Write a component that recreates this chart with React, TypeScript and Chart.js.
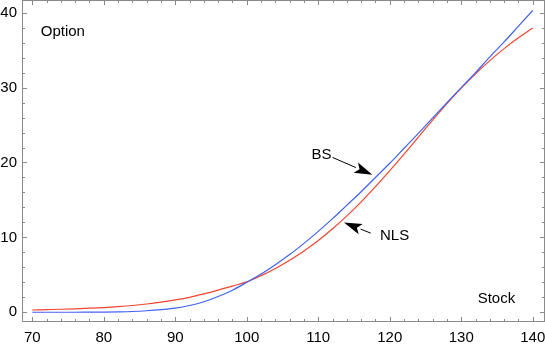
import React, { useEffect, useRef } from "react";
import { Chart, registerables } from "chart.js";

Chart.register(...registerables);

// Stock price (x) and option values for the two models
const stock = [70, 72, 74, 76, 78, 80, 82, 84, 86, 88, 90, 92, 94, 96, 98, 100, 102, 104, 106, 108, 110, 112, 114, 116, 118, 120, 122, 124, 126, 128, 130, 132, 134, 136, 138, 140];
const bsValues = [0, 0, 0, 0, 0.01, 0.02, 0.05, 0.1, 0.2, 0.35, 0.55, 0.9, 1.4, 2.1, 2.95, 4.0, 5.1, 6.35, 7.7, 9.2, 10.8, 12.5, 14.3, 16.1, 18.0, 19.9, 21.9, 23.9, 25.95, 28.0, 30.0, 32.0, 34.1, 36.1, 38.2, 40.3];
const nlsValues = [0.3, 0.35, 0.4, 0.46, 0.54, 0.63, 0.75, 0.9, 1.1, 1.35, 1.65, 2.0, 2.45, 2.95, 3.5, 4.05, 4.89, 5.85, 6.95, 8.19, 9.59, 11.15, 12.87, 14.75, 16.77, 18.91, 21.13, 23.39, 25.65, 27.85, 29.93, 31.85, 33.61, 35.21, 36.65, 37.97];

const xTickLabels = [70, 80, 90, 100, 110, 120, 130, 140];
const yTickLabels = [0, 10, 20, 30, 40];

// annotations in data units
const bsLabel = { text: "BS", x: 109.07, y: 20.47 };
const bsArrow = { fromX: 111.99, fromY: 20.68, toX: 117.57, toY: 18.36 };
const nlsLabel = { text: "NLS", x: 118.64, y: 9.67 };
const nlsArrow = { fromX: 117.34, fromY: 10.57, toX: 113.59, toY: 11.99 };
const yAxisLabel = { text: "Option", x: 71.18, y: 36.9 };
const xAxisLabel = { text: "Stock", x: 132.3, y: 1.2 };

const FONT = "'Liberation Sans', Arial, sans-serif";
const FRAME = "#8a8a8a";
const BLUE = "#3f63f2";
const RED = "#f2452f";

const framePlugin = {
  id: "frameTicks",
  afterDatasetsDraw(chart: any) {
    const { ctx, chartArea: a, scales } = chart;
    const xs = scales.x;
    const ys = scales.y;
    ctx.save();
    ctx.strokeStyle = FRAME;
    ctx.lineWidth = 1;
    ctx.strokeRect(a.left + 0.5, a.top + 0.5, a.right - a.left - 1, a.bottom - a.top - 1);
    ctx.beginPath();
    for (let v = 70; v <= 140; v += 2) {
      const px = Math.round(xs.getPixelForValue(v)) + 0.5;
      const len = v % 10 === 0 ? 5 : 3;
      ctx.moveTo(px, a.bottom);
      ctx.lineTo(px, a.bottom - len);
      ctx.moveTo(px, a.top);
      ctx.lineTo(px, a.top + len);
    }
    for (let v = 0; v <= 40; v += 2) {
      const py = Math.round(ys.getPixelForValue(v)) + 0.5;
      const len = v % 10 === 0 ? 5 : 3;
      ctx.moveTo(a.left, py);
      ctx.lineTo(a.left + len, py);
      ctx.moveTo(a.right, py);
      ctx.lineTo(a.right - len, py);
    }
    ctx.stroke();

    ctx.fillStyle = "#000";
    ctx.font = `15px ${FONT}`;
    ctx.textBaseline = "alphabetic";
    ctx.textAlign = "left";
    for (const lab of [bsLabel, nlsLabel, yAxisLabel, xAxisLabel]) {
      ctx.fillText(lab.text, xs.getPixelForValue(lab.x), ys.getPixelForValue(lab.y));
    }

    const drawArrow = (ar: any) => {
      const x1 = xs.getPixelForValue(ar.fromX);
      const y1 = ys.getPixelForValue(ar.fromY);
      const x2 = xs.getPixelForValue(ar.toX);
      const y2 = ys.getPixelForValue(ar.toY);
      const ang = Math.atan2(y2 - y1, x2 - x1);
      const hl = 18;
      const hw = 5.5;
      const bx = x2 - hl * Math.cos(ang);
      const by = y2 - hl * Math.sin(ang);
      ctx.strokeStyle = "#000";
      ctx.lineWidth = 1;
      ctx.beginPath();
      ctx.moveTo(x1, y1);
      ctx.lineTo(bx, by);
      ctx.stroke();
      const nx = -Math.sin(ang);
      const ny = Math.cos(ang);
      const nbx = x2 - (hl - 4) * Math.cos(ang);
      const nby = y2 - (hl - 4) * Math.sin(ang);
      ctx.beginPath();
      ctx.moveTo(x2, y2);
      ctx.lineTo(bx + nx * hw, by + ny * hw);
      ctx.lineTo(nbx, nby);
      ctx.lineTo(bx - nx * hw, by - ny * hw);
      ctx.closePath();
      ctx.fillStyle = "#000";
      ctx.fill();
    };
    drawArrow(bsArrow);
    drawArrow(nlsArrow);
    ctx.restore();
  },
};

export default function App() {
  const ref = useRef<HTMLCanvasElement>(null);
  useEffect(() => {
    if (!ref.current) return;
    const chart = new Chart(ref.current, {
      type: "line",
      data: {
        datasets: [
          {
            label: "BS",
            data: stock.map((s, i) => ({ x: s, y: bsValues[i] })),
            borderColor: BLUE,
            borderWidth: 1.2,
            pointRadius: 0,
            cubicInterpolationMode: "monotone",
            fill: false,
          },
          {
            label: "NLS",
            data: stock.map((s, i) => ({ x: s, y: nlsValues[i] })),
            borderColor: RED,
            borderWidth: 1.2,
            pointRadius: 0,
            cubicInterpolationMode: "monotone",
            fill: false,
          },
        ],
      },
      options: {
        animation: false,
        responsive: false,
        layout: { padding: 0 },
        plugins: { legend: { display: false }, tooltip: { enabled: false } },
        scales: {
          x: {
            type: "linear",
            min: 68.56,
            max: 141.72,
            afterBuildTicks: (s: any) => {
              s.ticks = xTickLabels.map((v) => ({ value: v }));
            },
            afterFit: (s: any) => {
              s.height = 25;
              s.paddingLeft = 0;
              s.paddingRight = 0;
            },
            grid: { display: false, drawTicks: false },
            border: { display: false },
            ticks: { color: "#000", font: { family: FONT, size: 15 }, padding: 7, maxRotation: 0, autoSkip: false },
          },
          y: {
            type: "linear",
            min: -1.3,
            max: 41.7,
            afterBuildTicks: (s: any) => {
              s.ticks = yTickLabels.map((v) => ({ value: v }));
            },
            afterFit: (s: any) => {
              s.width = 22;
              s.paddingTop = 0;
              s.paddingBottom = 0;
            },
            grid: { display: false, drawTicks: false },
            border: { display: false },
            ticks: { color: "#000", font: { family: FONT, size: 15 }, padding: 5 },
          },
        },
      },
      plugins: [framePlugin],
    });
    return () => chart.destroy();
  }, []);
  return (
    <div style={{ position: "absolute", left: 0, top: 0, width: 545, height: 347, background: "#fff" }}>
      <canvas ref={ref} width={545} height={347} style={{ display: "block" }} />
    </div>
  );
}
